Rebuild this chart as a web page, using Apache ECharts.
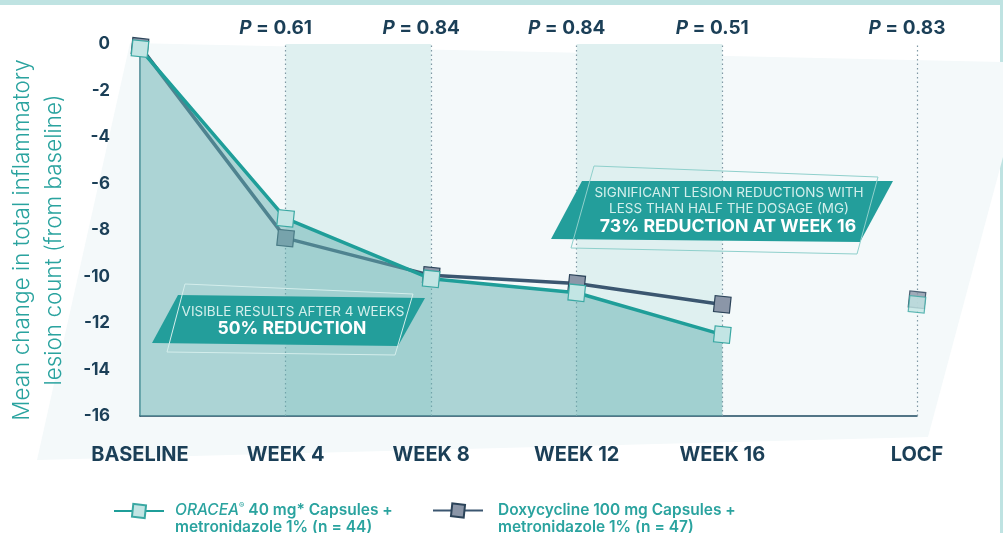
<!DOCTYPE html>
<html>
<head>
<meta charset="utf-8">
<script src="https://cdn.jsdelivr.net/npm/echarts@6/dist/echarts.min.js"></script>
<style>
html,body{margin:0;padding:0;background:#ffffff;}
#chart{width:1003px;height:533px;}
</style>
</head>
<body>
<div id="chart"></div>
<script>
// ---- data ----
var xPositions = [0, 4, 8, 12, 16];
var locfX = 21.35;
var xTickValues = [0, 4, 8, 12, 16, 21.35];
var xTickLabels = ['BASELINE', 'WEEK 4', 'WEEK 8', 'WEEK 12', 'WEEK 16', 'LOCF'];
var oraceaValues = [-0.2, -7.5, -10.1, -10.7, -12.5];
var doxyValues = [-0.1, -8.35, -9.95, -10.3, -11.2];
var oraceaLocf = -11.2;
var doxyLocf = -11.0;
var pValueX = [4, 8, 12, 16, 21.35];
var pValues = ['0.61', '0.84', '0.84', '0.51', '0.83'];
var bandRanges = [[4, 8], [12, 16]];
var yTicks = {min: -16, max: 0, interval: 2};
var oraceaName = 'ORACEA';
var doxyName = 'Doxycycline';

function pairs(xs, ys) { return xs.map(function (x, i) { return [x, ys[i]]; }); }

var FONT = 'Inter, "Noto Sans", sans-serif';
var NAVY = '#1b3f57';
var TEAL = '#1f9e99';
var DOXY = '#3b5670';
var LEG = '#2aa39f';

var chart = echarts.init(document.getElementById('chart'), null, {renderer: 'canvas'});

var oraceaSymbolStyle = {color: '#c2e5e4', borderColor: '#3aa8a3', borderWidth: 1.2};
var doxySymbolStyle = {color: '#8b96a8', borderColor: '#2c445a', borderWidth: 1.2};

var option = {
  animation: false,
  backgroundColor: '#ffffff',
  graphic: [
    {type: 'rect', z: -10, shape: {x: 0, y: 0, width: 1003, height: 5}, style: {fill: '#bfe3e2'}},
    {type: 'rect', z: -10, shape: {x: 1000, y: 0, width: 3, height: 533}, style: {fill: '#bfe3e2'}},
    {type: 'polygon', z: -10, shape: {points: [[130, 43], [1003, 62], [1003, 157], [928, 437], [37, 460]]}, style: {fill: '#f4f9fa'}},
    // annotation 1
    {type: 'polygon', z: 100, shape: {points: [[178, 295], [425, 298], [398, 346], [152, 343]]}, style: {fill: '#239e9b'}},
    {type: 'polygon', z: 101, shape: {points: [[185, 284], [413, 294], [395, 355], [167, 352]]}, style: {fill: 'none', stroke: '#d4eeec', lineWidth: 1}},
    {type: 'text', z: 102, style: {x: 293, y: 312, text: 'VISIBLE RESULTS AFTER 4 WEEKS', fill: '#d3efec', font: '13.5px ' + FONT, align: 'center', verticalAlign: 'middle'}},
    {type: 'text', z: 102, style: {x: 292, y: 329, text: '50% REDUCTION', fill: '#ffffff', font: 'bold 17.5px ' + FONT, align: 'center', verticalAlign: 'middle'}},
    // annotation 2
    {type: 'polygon', z: 100, shape: {points: [[582, 181], [893, 181], [860, 242], [551, 239]]}, style: {fill: '#239e9b'}},
    {type: 'polygon', z: 101, shape: {points: [[594, 166], [878, 177], [857, 254], [571, 248]]}, style: {fill: 'none', stroke: '#8fd0cc', lineWidth: 1}},
    {type: 'text', z: 102, style: {x: 729, y: 193, text: 'SIGNIFICANT LESION REDUCTIONS WITH', fill: '#d3efec', font: '13.5px ' + FONT, align: 'center', verticalAlign: 'middle'}},
    {type: 'text', z: 102, style: {x: 729, y: 209, text: 'LESS THAN HALF THE DOSAGE (MG)', fill: '#d3efec', font: '13.5px ' + FONT, align: 'center', verticalAlign: 'middle'}},
    {type: 'text', z: 102, style: {x: 728, y: 227, text: '73% REDUCTION AT WEEK 16', fill: '#ffffff', font: 'bold 17.7px ' + FONT, align: 'center', verticalAlign: 'middle'}}
  ],
  grid: {left: 140, right: 86, top: 44, bottom: 117, outerBoundsMode: 'none', containLabel: false},
  legend: [
    {
      data: [oraceaName], left: 113, top: 502, padding: 0, itemWidth: 50, itemHeight: 16,
      formatter: function () { return '{it|ORACEA}{sup|®}{t| 40 mg* Capsules +}\n{t|metronidazole 1% (n = 44)}'; },
      textStyle: {
        color: LEG, fontFamily: FONT, fontSize: 15.5, fontWeight: 600, padding: [16, 0, 0, 6],
        rich: {
          it: {color: LEG, fontFamily: FONT, fontSize: 15.5, fontStyle: 'italic', fontWeight: 500, lineHeight: 17},
          sup: {color: LEG, fontFamily: FONT, fontSize: 8, verticalAlign: 'top', lineHeight: 17, padding: [0, 0, 6, 0]},
          t: {color: LEG, fontFamily: FONT, fontSize: 15.5, fontWeight: 600, lineHeight: 17}
        }
      }
    },
    {
      data: [doxyName], left: 432, top: 502, padding: 0, itemWidth: 50, itemHeight: 16,
      formatter: function () { return '{t|Doxycycline 100 mg Capsules +}\n{t|metronidazole 1% (n = 47)}'; },
      textStyle: {
        color: LEG, fontFamily: FONT, fontSize: 15.5, fontWeight: 600, padding: [16, 0, 0, 10],
        rich: {
          t: {color: LEG, fontFamily: FONT, fontSize: 15.5, fontWeight: 600, lineHeight: 17}
        }
      }
    }
  ],
  xAxis: {
    type: 'value', min: 0, max: locfX,
    axisLine: {show: true, onZero: false, lineStyle: {color: '#1d4a60', width: 1.5}},
    axisTick: {show: false},
    splitLine: {show: false},
    axisLabel: {
      margin: 29, color: NAVY, fontFamily: FONT, fontWeight: 'bold', fontSize: 20,
      customValues: xTickValues,
      formatter: function (v) { var i = xTickValues.indexOf(v); return i >= 0 ? xTickLabels[i] : ''; }
    }
  },
  yAxis: {
    type: 'value', min: yTicks.min, max: yTicks.max, interval: yTicks.interval,
    axisLine: {show: true, onZero: false, lineStyle: {color: '#3f7e8b', width: 1.5}},
    axisTick: {show: false},
    splitLine: {show: false},
    axisLabel: {margin: 30, color: NAVY, fontFamily: FONT, fontWeight: 'bold', fontSize: 17},
    name: 'Mean change in total inflammatory\nlesion count (from baseline)',
    nameLocation: 'middle', nameGap: 70,
    nameTextStyle: {color: '#2aa39f', fontFamily: FONT, fontSize: 22.5, fontWeight: 300, lineHeight: 32, padding: [0, 20, 0, 0]}
  },
  series: [
    {
      name: 'guides', type: 'line', z: 1, data: [],
      markLine: {
        silent: true, symbol: 'none', z: 1,
        lineStyle: {color: '#7f98a4', type: [1.5, 3], width: 1.2},
        label: {
          show: true, position: 'end', distance: 6, offset: [-10, 0],
          formatter: function (p) { return '{i|P}{b| = ' + pValues[pValueX.indexOf(p.value)] + '}'; },
          rich: {
            i: {color: NAVY, fontFamily: FONT, fontSize: 19, fontWeight: 'bold', fontStyle: 'italic'},
            b: {color: NAVY, fontFamily: FONT, fontSize: 19, fontWeight: 'bold'}
          }
        },
        data: pValueX.map(function (x) { return {xAxis: x}; })
      },
      markArea: {
        silent: true, z: 0,
        itemStyle: {color: '#dff0f0'},
        data: bandRanges.map(function (r) { return [{xAxis: r[0]}, {xAxis: r[1]}]; })
      }
    },
    {
      name: doxyName, type: 'line', z: 2,
      data: pairs(xPositions, doxyValues),
      symbol: 'rect', symbolSize: 16, symbolRotate: -6,
      lineStyle: {color: DOXY, width: 3.5},
      itemStyle: doxySymbolStyle
    },
    {
      name: doxyName, type: 'scatter', z: 2,
      data: [[locfX, doxyLocf]],
      symbol: 'rect', symbolSize: 16, symbolRotate: -6,
      itemStyle: doxySymbolStyle
    },
    {
      name: oraceaName, type: 'line', z: 3,
      data: pairs(xPositions, oraceaValues),
      symbol: 'rect', symbolSize: 16, symbolRotate: -6,
      lineStyle: {color: TEAL, width: 3.5},
      itemStyle: oraceaSymbolStyle,
      areaStyle: {origin: 'start', color: 'rgba(100,176,176,0.5)', opacity: 1}
    },
    {
      name: oraceaName, type: 'scatter', z: 3,
      data: [[locfX, oraceaLocf]],
      symbol: 'rect', symbolSize: 16, symbolRotate: -6,
      itemStyle: oraceaSymbolStyle
    }
  ]
};
chart.setOption(option);
</script>
</body>
</html>
